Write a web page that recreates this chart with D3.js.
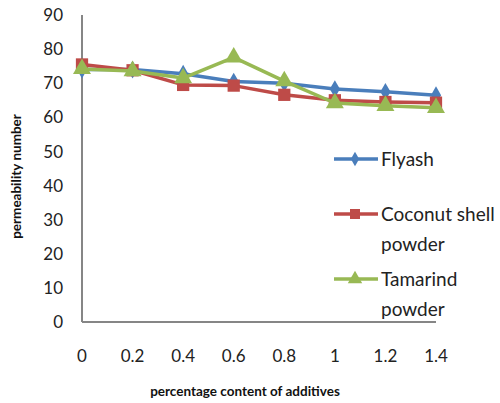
<!DOCTYPE html>
<html>
<head>
<meta charset="utf-8">
<script src="https://cdn.jsdelivr.net/npm/d3@7"></script>
<style>
  body { margin: 0; background: #fff; }
  svg { display: block; }
</style>
</head>
<body>
<div id="chart"></div>
<script>
const xValues = [0, 0.2, 0.4, 0.6, 0.8, 1, 1.2, 1.4];
const xTickLabels = ["0", "0.2", "0.4", "0.6", "0.8", "1", "1.2", "1.4"];
const flyash = [74, 74, 72.8, 70.5, 70, 68.3, 67.5, 66.5];
const coconut = [75.5, 73.8, 69.5, 69.3, 66.6, 65, 64.5, 64.3];
const tamarind = [74.2, 73.6, 71.5, 77.6, 70.6, 64.2, 63.4, 62.8];
const yTicks = [0, 10, 20, 30, 40, 50, 60, 70, 80, 90];

const seriesList = [
    { name: ["Flyash"], values: flyash, color: "#4a7ebb", marker: "diamond" },
    { name: ["Coconut shell", "powder"], values: coconut, color: "#be4b48", marker: "square" },
    { name: ["Tamarind", "powder"], values: tamarind, color: "#98b954", marker: "triangle" }
];

const width = 500, height = 403;
const font = "Lato, 'Open Sans', sans-serif";

const svg = d3.select("#chart").append("svg")
    .attr("width", width)
    .attr("height", height);

const x = d3.scaleLinear().domain([0, 1.4]).range([82, 436]);
const y = d3.scaleLinear().domain([0, 90]).range([322, 15]);

// y tick labels (no tick marks)
svg.selectAll(".ytick")
    .data(yTicks)
    .join("text")
    .attr("x", 63)
    .attr("y", d => y(d))
    .attr("dy", "0.36em")
    .attr("text-anchor", "end")
    .attr("font-family", font)
    .attr("font-size", 17)
    .attr("fill", "#222")
    .text(d => d);

// x tick labels, sit well below the axis
svg.selectAll(".xtick")
    .data(xValues)
    .join("text")
    .attr("x", d => x(d))
    .attr("y", 362)
    .attr("text-anchor", "middle")
    .attr("font-family", font)
    .attr("font-size", 17)
    .attr("fill", "#222")
    .text((d, i) => xTickLabels[i]);

// axis lines
svg.append("line")
    .attr("x1", x(0)).attr("x2", x(0))
    .attr("y1", y(90)).attr("y2", y(0))
    .attr("stroke", "#868686").attr("stroke-width", 2);
svg.append("line")
    .attr("x1", x(0)).attr("x2", x(1.4))
    .attr("y1", y(0)).attr("y2", y(0))
    .attr("stroke", "#868686").attr("stroke-width", 2);

// axis titles
svg.append("text")
    .attr("transform", `translate(21,${(y(0) + y(90)) / 2 + 8}) rotate(-90)`)
    .attr("text-anchor", "middle")
    .attr("font-family", font)
    .attr("font-size", 13.5)
    .attr("font-weight", "bold")
    .attr("fill", "#111")
    .text("permeability number");

svg.append("text")
    .attr("x", 245)
    .attr("y", 396)
    .attr("text-anchor", "middle")
    .attr("font-family", font)
    .attr("font-size", 13.5)
    .attr("font-weight", "bold")
    .attr("fill", "#111")
    .text("percentage content of additives");

const symbolFor = {
    diamond: d3.symbol().type(d3.symbolDiamond).size(90),
    square: d3.symbol().type(d3.symbolSquare).size(150),
    triangle: d3.symbol().type(d3.symbolTriangle).size(140)
};
const legendSymbolFor = {
    diamond: d3.symbol().type(d3.symbolDiamond).size(60),
    square: d3.symbol().type(d3.symbolSquare).size(100),
    triangle: d3.symbol().type(d3.symbolTriangle).size(90)
};

const line = d3.line()
    .x((d, i) => x(xValues[i]))
    .y(d => y(d));

seriesList.forEach(s => {
    const g = svg.append("g");
    g.append("path")
        .attr("d", line(s.values))
        .attr("fill", "none")
        .attr("stroke", s.color)
        .attr("stroke-width", 3.5)
        .attr("stroke-linejoin", "round");
    g.selectAll("path.m")
        .data(s.values)
        .join("path")
        .attr("class", "m")
        .attr("d", symbolFor[s.marker])
        .attr("transform", (d, i) => `translate(${x(xValues[i])},${y(d)})`)
        .attr("fill", s.color);
});

// legend
const legendRows = [159, 214, 279];
seriesList.forEach((s, i) => {
    const ly = legendRows[i];
    const g = svg.append("g");
    g.append("line")
        .attr("x1", 334).attr("x2", 378)
        .attr("y1", ly).attr("y2", ly)
        .attr("stroke", s.color).attr("stroke-width", 3.5);
    g.append("path")
        .attr("d", legendSymbolFor[s.marker])
        .attr("transform", `translate(355,${ly})`)
        .attr("fill", s.color);
    s.name.forEach((t, j) => {
        g.append("text")
            .attr("x", 381)
            .attr("y", ly + j * 30)
            .attr("dy", "0.36em")
            .attr("font-family", font)
            .attr("font-size", 19)
            .attr("fill", "#222")
            .text(t);
    });
});
</script>
</body>
</html>
